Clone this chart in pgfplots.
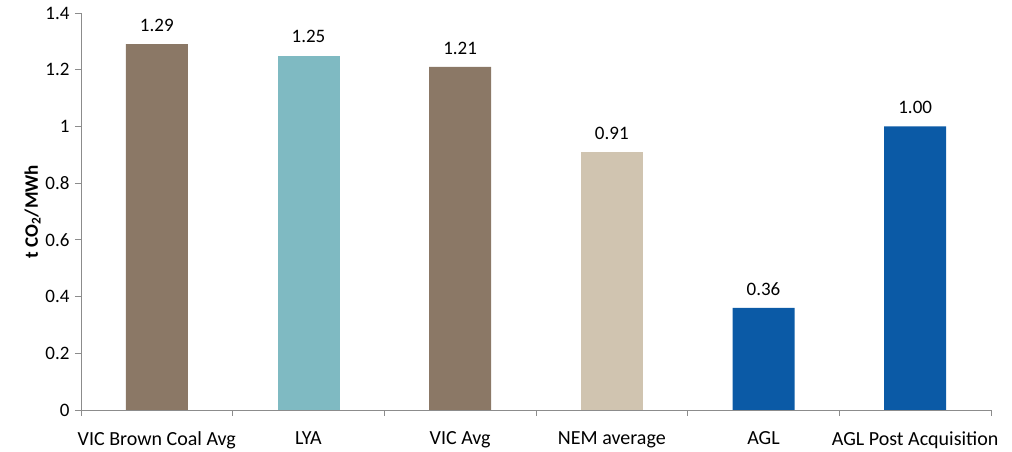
\documentclass[border=0pt]{standalone}
\usepackage{pgfplots}
\pgfplotsset{compat=1.18}
\usepackage{fontspec}
\setmainfont{Carlito}
\definecolor{cbrown}{HTML}{8B7866}
\definecolor{cteal}{HTML}{7FBAC2}
\definecolor{cbeige}{HTML}{D0C4B0}
\definecolor{cblue}{HTML}{0B5AA6}
\definecolor{caxis}{HTML}{8C8C8C}
\begin{document}
\begin{tikzpicture}
\begin{axis}[
  scale only axis,
  width=910pt, height=397pt,
  xmin=-0.5, xmax=5.5,
  ymin=0, ymax=1.4,
  axis x line*=bottom, axis y line*=left,
  axis line style={caxis, line width=0.8pt},
  tick style={caxis, line width=0.8pt},
  tick align=outside,
  xtick={0,1,2,3,4,5},
  xticklabels={VIC Brown Coal Avg, LYA, VIC Avg, NEM average, AGL, AGL Post Acquisition},
  x tick label style={font=\fontsize{20}{24}\selectfont, yshift=-12pt},
  major x tick style={draw=none},
  minor xtick={-0.5,0.5,1.5,2.5,3.5,4.5,5.5},
  minor tick length=6pt,
  ytick={0,0.2,0.4,0.6,0.8,1,1.2,1.4},
  major tick length=6pt,
  y tick label style={font=\fontsize{19}{22}\selectfont, xshift=-2pt},
  /pgf/number format/assume math mode=true,
  ylabel={\textbf{t CO\textsubscript{2}/MWh}},
  ylabel style={font=\fontsize{19}{22}\selectfont, yshift=-2pt},
  ybar, bar width=62pt, bar shift=0pt,
  nodes near coords,
  nodes near coords style={font=\fontsize{19}{22}\selectfont, yshift=9pt, /pgf/number format/fixed, /pgf/number format/fixed zerofill, /pgf/number format/precision=2},
]
\addplot[fill=cbrown, draw=none] coordinates {(0,1.29) (2,1.21)};
\addplot[fill=cteal, draw=none] coordinates {(1,1.25)};
\addplot[fill=cbeige, draw=none] coordinates {(3,0.91)};
\addplot[fill=cblue, draw=none] coordinates {(4,0.36) (5,1.00)};
\end{axis}
\pgfresetboundingbox
\path ([xshift=-81pt,yshift=-42pt]current axis.south west) rectangle ([xshift=21pt,yshift=13pt]current axis.north east);
\end{tikzpicture}
\end{document}
